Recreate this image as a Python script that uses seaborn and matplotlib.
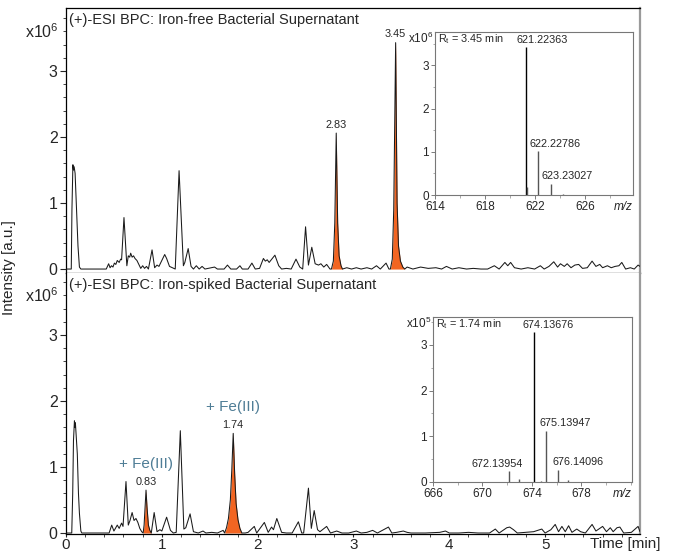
import numpy as np
import matplotlib
matplotlib.use("Agg")
import matplotlib.pyplot as plt
from matplotlib.ticker import MultipleLocator, FixedLocator
from matplotlib.transforms import blended_transform_factory
import seaborn as sns

# ---------------------------------------------------------
# DATA
# ---------------------------------------------------------
# BPC trace, iron-free supernatant: time [min], intensity [x1e6]
free_t = [0.0, 0.055, 0.062, 0.072, 0.078, 0.085, 0.095, 0.11, 0.125, 0.14, 0.155,
          0.42, 0.445, 0.46, 0.475, 0.49, 0.505, 0.52, 0.535, 0.555, 0.57, 0.58,
          0.605, 0.635, 0.65, 0.665, 0.675, 0.69, 0.705, 0.72, 0.74, 0.76, 0.78, 0.80, 0.82, 0.84, 0.86,
          0.898, 0.925, 0.95, 0.97, 1.03, 1.05, 1.08, 1.11, 1.14,
          1.18, 1.225, 1.24, 1.275, 1.305, 1.33, 1.36, 1.39, 1.42, 1.45, 1.55, 1.58, 1.65, 1.685,
          1.72, 1.78, 1.815, 1.84, 1.90, 1.94, 1.975, 2.02,
          2.06, 2.08, 2.10, 2.12, 2.18, 2.22, 2.25, 2.30, 2.35, 2.40, 2.44, 2.47, 2.50, 2.53,
          2.565, 2.60, 2.635, 2.66, 2.69, 2.72, 2.755,
          2.77, 2.79, 2.805, 2.82, 2.835, 2.85, 2.87, 2.885,
          2.93, 2.98, 3.03, 3.08, 3.14, 3.19, 3.24, 3.28, 3.34, 3.37,
          3.385, 3.405, 3.42, 3.44, 3.455, 3.47, 3.49, 3.515, 3.535,
          3.56, 3.62, 3.70, 3.78, 3.86, 3.92, 3.97, 4.03, 4.10, 4.18, 4.25, 4.33, 4.40, 4.47,
          4.52, 4.58, 4.61, 4.64, 4.68, 4.75, 4.82, 4.89, 4.95, 4.99, 5.04, 5.09, 5.13, 5.16,
          5.20, 5.23, 5.27, 5.31, 5.35, 5.39, 5.44, 5.49, 5.53, 5.57, 5.60, 5.65, 5.69, 5.73,
          5.77, 5.80, 5.84, 5.89, 5.93, 5.97, 5.99]
free_i = [0.0, 0.0, 0.9, 1.58, 1.50, 1.55, 1.45, 0.9, 0.35, 0.03, 0.0,
          0.0, 0.08, 0.02, 0.05, 0.03, 0.09, 0.07, 0.13, 0.10, 0.15, 0.14,
          0.78, 0.05, 0.20, 0.18, 0.24, 0.18, 0.20, 0.16, 0.13, 0.07, 0.01, 0.05, 0.01, 0.04, 0.0,
          0.29, 0.02, 0.06, 0.04, 0.22, 0.16, 0.04, 0.02, 0.0,
          1.49, 0.05, 0.10, 0.31, 0.04, 0.0, 0.05, 0.0, 0.04, 0.0, 0.03, 0.0, 0.0, 0.06,
          0.0, 0.0, 0.05, 0.0, 0.0, 0.09, 0.0, 0.01,
          0.16, 0.12, 0.14, 0.10, 0.21, 0.05, 0.0, 0.01, 0.0, 0.15, 0.03, 0.0, 0.64, 0.06,
          0.33, 0.08, 0.06, 0.08, 0.03, 0.07, 0.0,
          0.0, 0.12, 0.70, 2.06, 0.70, 0.20, 0.05, 0.0,
          0.02, 0.0, 0.02, 0.0, 0.02, 0.0, 0.05, 0.0, 0.09, 0.0,
          0.0, 0.15, 0.90, 3.43, 1.00, 0.35, 0.12, 0.03, 0.0,
          0.03, 0.0, 0.03, 0.01, 0.02, 0.0, 0.04, 0.0, 0.02, 0.0, 0.01, 0.0, 0.0, 0.05,
          0.0, 0.10, 0.05, 0.10, 0.02, 0.0, 0.02, 0.0, 0.05, 0.0, 0.04, 0.11, 0.03, 0.08,
          0.04, 0.08, 0.02, 0.06, 0.07, 0.01, 0.02, 0.12, 0.04, 0.07, 0.02, 0.05, 0.02, 0.04,
          0.05, 0.10, 0.0, 0.02, 0.0, 0.06, 0.04]
free_windows = [(2.77, 2.885), (3.385, 3.535)]
free_rt = ["2.83", "3.45"]

# BPC trace, iron-spiked supernatant
fe_t = [0.0, 0.06, 0.07, 0.078, 0.088, 0.094, 0.098, 0.105, 0.118, 0.13, 0.14, 0.155, 0.165,
        0.45, 0.477, 0.50, 0.535, 0.555, 0.58, 0.595, 0.626, 0.65, 0.668, 0.69, 0.71, 0.73,
        0.75, 0.77, 0.79,
        0.805, 0.815, 0.825, 0.835, 0.845, 0.86, 0.875, 0.89,
        0.92, 0.95, 0.98, 1.00, 1.05, 1.09, 1.12, 1.15, 1.193, 1.23, 1.25, 1.295, 1.33, 1.38,
        1.43, 1.46, 1.52, 1.58, 1.64,
        1.655, 1.675, 1.695, 1.715, 1.73, 1.745, 1.76, 1.775, 1.795, 1.815, 1.835,
        1.87, 1.90, 1.965, 1.99, 2.07, 2.11, 2.145, 2.165, 2.20, 2.25, 2.30, 2.36, 2.425, 2.46,
        2.48, 2.53, 2.56, 2.59, 2.625, 2.65, 2.72, 2.76, 2.825, 2.88, 2.95, 3.03, 3.08, 3.14,
        3.20, 3.25, 3.365, 3.40, 3.45, 3.52, 3.56, 3.60, 3.75, 3.90, 3.96, 4.00, 4.10, 4.20,
        4.30, 4.42, 4.48, 4.52, 4.57, 4.60, 4.63, 4.67, 4.71, 4.80, 4.88, 4.965, 5.00, 5.06,
        5.105, 5.14, 5.175, 5.21, 5.245, 5.28, 5.33, 5.37, 5.42, 5.49, 5.53, 5.60, 5.64, 5.68,
        5.71, 5.75, 5.78, 5.82, 5.90, 5.97, 5.99]
fe_i = [0.0, 0.0, 0.6, 1.4, 1.70, 1.60, 1.67, 1.5, 1.2, 0.6, 0.3, 0.03, 0.0,
        0.0, 0.12, 0.03, 0.12, 0.07, 0.15, 0.10, 0.78, 0.12, 0.19, 0.31, 0.19, 0.22,
        0.16, 0.07, 0.02,
        0.0, 0.12, 0.40, 0.65, 0.40, 0.12, 0.04, 0.0,
        0.31, 0.02, 0.05, 0.03, 0.24, 0.04, 0.0, 0.01, 1.55, 0.06, 0.08, 0.29, 0.02, 0.0,
        0.03, 0.0, 0.01, 0.0, 0.04,
        0.0, 0.08, 0.22, 0.50, 0.95, 1.51, 0.90, 0.45, 0.20, 0.07, 0.0,
        0.0, 0.01, 0.10, 0.0, 0.16, 0.01, 0.09, 0.05, 0.22, 0.01, 0.0, 0.0, 0.17, 0.0,
        0.0, 0.68, 0.07, 0.34, 0.05, 0.02, 0.10, 0.0, 0.03, 0.0, 0.0, 0.03, 0.0, 0.01,
        0.04, 0.0, 0.09, 0.0, 0.01, 0.03, 0.01, 0.0, 0.0, 0.01, 0.03, 0.0, 0.0, 0.01,
        0.0, 0.0, 0.06, 0.0, 0.05, 0.08, 0.09, 0.05, 0.0, 0.01, 0.02, 0.06, 0.0, 0.05,
        0.13, 0.02, 0.10, 0.02, 0.11, 0.01, 0.06, 0.02, 0.0, 0.13, 0.03, 0.10, 0.02, 0.08,
        0.02, 0.08, 0.09, 0.0, 0.01, 0.10, 0.02]
fe_windows = [(0.805, 0.89), (1.655, 1.835)]
fe_rt = ["0.83", "1.74"]

# MS spectra (insets): m/z, intensity
free_ms_mz = [621.22363, 621.35, 622.22786, 623.23027, 624.2]
free_ms_i = [3.42, 0.18, 1.02, 0.26, 0.03]
free_ms_lab = ["621.22363", "", "622.22786", "623.23027", ""]

fe_ms_mz = [672.13954, 672.95, 674.13676, 674.7, 675.13947, 676.14096, 676.95]
fe_ms_i = [0.23, 0.07, 3.28, 0.03, 1.12, 0.27, 0.04]
fe_ms_lab = ["672.13954", "", "674.13676", "", "675.13947", "676.14096", ""]

# ---------------------------------------------------------
# STYLE
# ---------------------------------------------------------
sns.set_style("ticks")
plt.rcParams['font.family'] = ['Liberation Sans', 'DejaVu Sans']
plt.rcParams['mathtext.default'] = 'regular'

ORANGE = '#F26522'
FE_BLUE = '#4f7d96'
GREY = '#9a9a9a'
W, H = 685, 553


def px_rect(x0, y0, x1, y1):
    return [x0 / W, 1 - y1 / H, (x1 - x0) / W, (y1 - y0) / H]


def draw_trace(ax, t, inten, windows, rts):
    t = np.asarray(t)
    inten = np.asarray(inten)
    for (lo, hi), rt in zip(windows, rts):
        m = (t >= lo) & (t <= hi)
        ax.fill_between(t[m], 0, inten[m], color=ORANGE, lw=0, zorder=2)
        k = np.argmax(np.where(m, inten, -1))
        ax.annotate(rt, xy=(t[k], inten[k]), xytext=(0, 4), textcoords='offset points',
                    ha='center', va='baseline', fontsize=7.8)
    sns.lineplot(x=t, y=inten, ax=ax, color='#1a1a1a', lw=0.75, sort=False,
                 estimator=None, zorder=3)


def style_main(ax, title, ylim):
    ax.set_xlim(0, 5.99)
    ax.set_ylim(*ylim)
    ax.set_xlabel('')
    ax.set_ylabel('')
    ax.xaxis.set_major_locator(MultipleLocator(1))
    ax.xaxis.set_minor_locator(MultipleLocator(0.2))
    ax.yaxis.set_major_locator(FixedLocator([0, 1, 2, 3]))
    ax.yaxis.set_minor_locator(MultipleLocator(0.2))
    ax.tick_params(axis='y', which='major', length=4, width=0.8, labelsize=11.5, pad=2)
    ax.tick_params(axis='y', which='minor', length=2.5, width=0.6)
    ax.tick_params(axis='x', which='major', length=2.5, width=0.8, labelsize=11, pad=0.5)
    ax.tick_params(axis='x', which='minor', length=1.8, width=0.6)
    for s in ('left', 'bottom', 'top'):
        ax.spines[s].set_color('black')
        ax.spines[s].set_linewidth(0.9)
    ax.spines['right'].set_color(GREY)
    ax.spines['right'].set_linewidth(1.6)
    ax.text(0.006, 0.982, title, transform=ax.transAxes, ha='left', va='top', fontsize=10.5)
    tr = blended_transform_factory(ax.transAxes, ax.transData)
    ax.text(-0.012, 3.6, 'x10$^6$', transform=tr, ha='right', va='center', fontsize=11.5)


def draw_inset(rect, mz, inten, labs, dx, xlim, ylim, xticks, expo, rt):
    ax = fig.add_axes(rect)
    ax.set_facecolor('white')
    for x, y, lab, d in zip(mz, inten, labs, dx):
        c = 'black' if y == max(inten) else '#555555'
        ax.vlines(x, 0, y, color=c, lw=1.0)
        if lab:
            ax.text(x + d, y + 0.1, lab, ha='left', va='baseline', fontsize=7.8)
    sns.despine(ax=ax, top=False, right=False)
    ax.set_xlim(*xlim)
    ax.set_ylim(*ylim)
    ax.xaxis.set_major_locator(FixedLocator(xticks))
    ax.xaxis.set_minor_locator(MultipleLocator(2))
    ax.yaxis.set_major_locator(FixedLocator([0, 1, 2, 3]))
    ax.yaxis.set_minor_locator(MultipleLocator(0.5))
    ax.tick_params(which='major', length=3, width=0.6, labelsize=8.5, pad=1.5, color='#666666')
    ax.tick_params(which='minor', length=1.8, width=0.5, color='#888888')
    for s in ax.spines.values():
        s.set_color('#777777')
        s.set_linewidth(0.8)
    ax.text(-0.01, 0.96, 'x10$^{%d}$' % expo, transform=ax.transAxes,
            ha='right', va='center', fontsize=8.5)
    ax.text(0.015, 0.955, 'R$_{t}$ = %s min' % rt, transform=ax.transAxes,
            ha='left', va='center', fontsize=7.8)
    ax.text(1.0, -0.035, 'm/z', transform=ax.transAxes, ha='right', va='top',
            fontsize=8.5, style='italic')
    return ax


fig = plt.figure(figsize=(W / 100, H / 100), dpi=100)
ax_top = fig.add_axes(px_rect(66, 8, 640, 273))
ax_bot = fig.add_axes(px_rect(66, 273, 640, 534))

draw_trace(ax_top, free_t, free_i, free_windows, free_rt)
draw_trace(ax_bot, fe_t, fe_i, fe_windows, fe_rt)

style_main(ax_top, '(+)-ESI BPC: Iron-free Bacterial Supernatant', (-0.06, 3.955))
style_main(ax_bot, '(+)-ESI BPC: Iron-spiked Bacterial Supernatant', (-0.015, 3.94))
ax_top.tick_params(axis='x', which='both', length=0, labelbottom=False)
ax_bot.spines['top'].set_visible(False)

# + Fe(III) labels above the iron-complex peaks
fe_arr_t, fe_arr_i = np.asarray(fe_t), np.asarray(fe_i)
for lo, hi in fe_windows:
    m = (fe_arr_t >= lo) & (fe_arr_t <= hi)
    k = np.argmax(np.where(m, fe_arr_i, -1))
    ax_bot.annotate('+ Fe(III)', xy=(fe_arr_t[k], fe_arr_i[k]), xytext=(0, 16),
                    textcoords='offset points', ha='center', va='baseline',
                    fontsize=11, color=FE_BLUE)

ax_bot.annotate('Time [min]', xy=(5.835, 0), xycoords=('data', 'axes fraction'),
                xytext=(0, -2.3), textcoords='offset points', ha='center', va='top',
                fontsize=11)

fig.text(0.013, 1 - 268 / H, 'Intensity [a.u.]', rotation=90, ha='center', va='center',
         fontsize=11)

draw_inset(px_rect(435, 32, 633, 195), free_ms_mz, free_ms_i, free_ms_lab,
           [-0.72, 0, -0.72, -0.72, 0], (614, 629.8), (0, 3.77),
           [614, 618, 622, 626], 6, '3.45')
draw_inset(px_rect(433, 317, 632, 482), fe_ms_mz, fe_ms_i, fe_ms_lab,
           [-3.0, 0, -0.92, 0, -0.52, -0.45, 0], (666, 682.1), (0, 3.61),
           [666, 670, 674, 678], 5, '1.74')

fig.savefig("out.png", dpi=100)
